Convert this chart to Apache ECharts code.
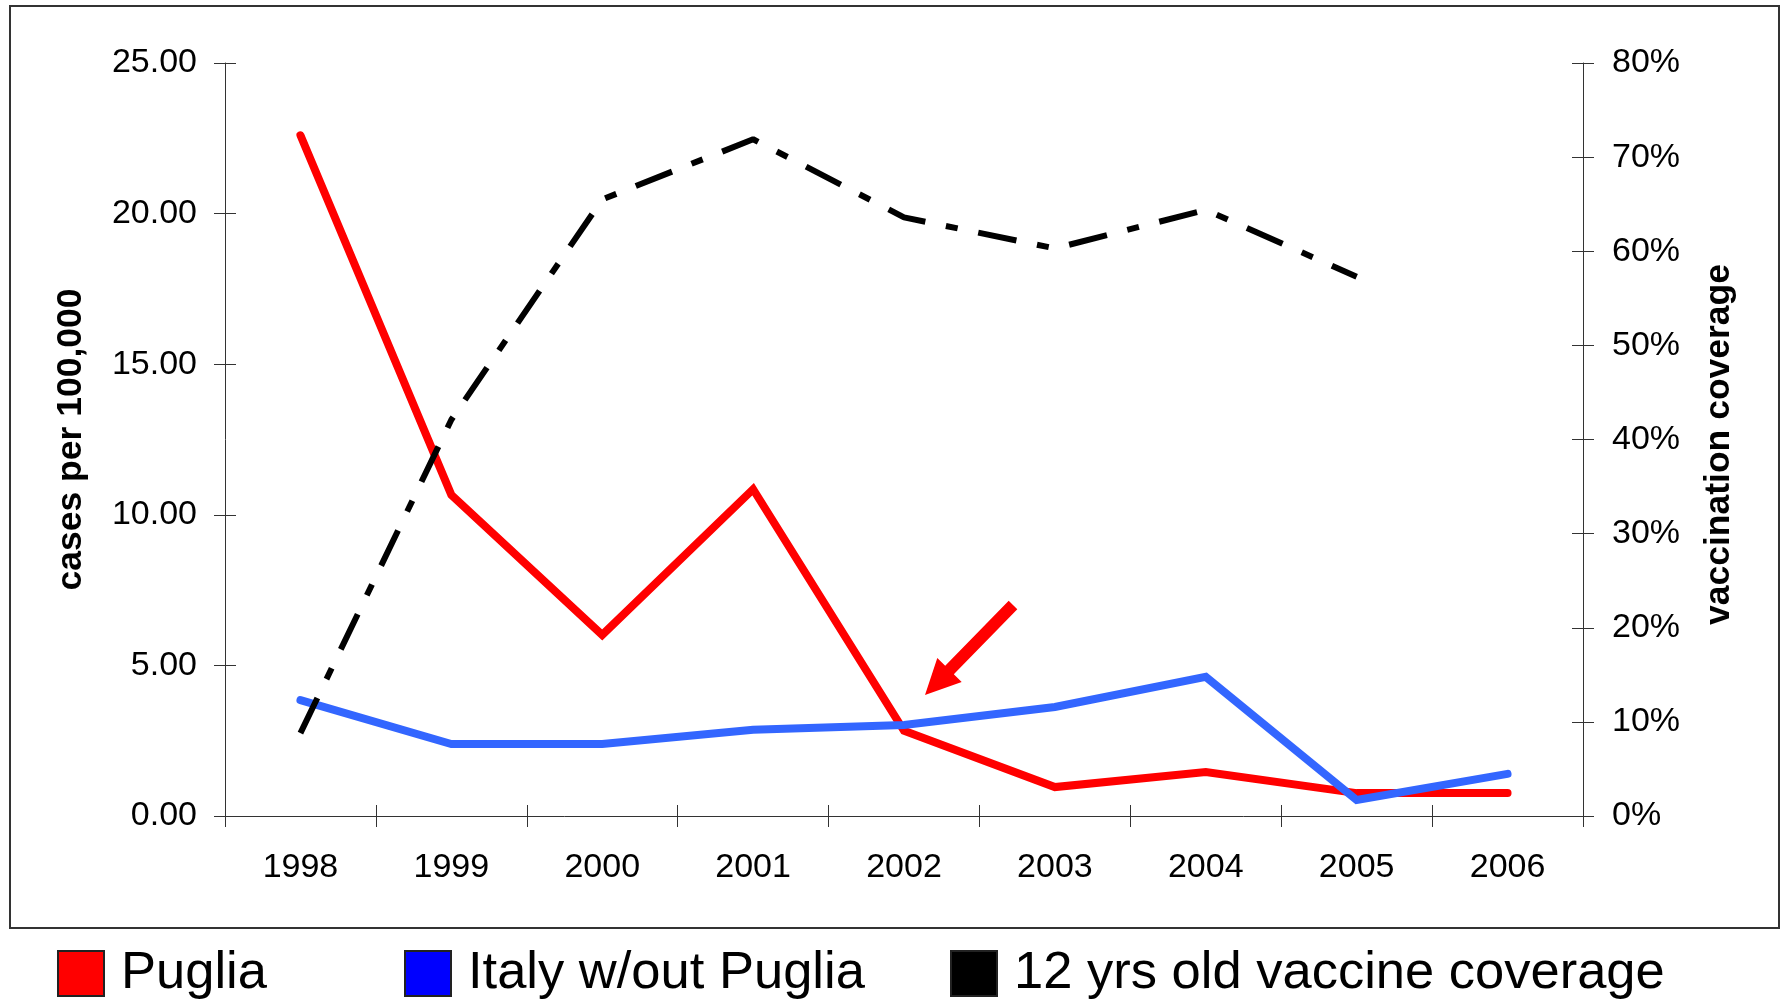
<!DOCTYPE html>
<html>
<head>
<meta charset="utf-8">
<script src="https://cdn.jsdelivr.net/npm/echarts@6/dist/echarts.min.js"></script>
<style>
html,body{margin:0;padding:0;background:#fff;}
#chart{width:1785px;height:1002px;}
</style>
</head>
<body>
<div id="chart"></div>
<script>
const years = ['1998','1999','2000','2001','2002','2003','2004','2005','2006'];
const puglia = [22.6, 10.66, 6.01, 10.85, 2.83, 0.96, 1.46, 0.76, 0.76];
const italyWithoutPuglia = [3.85, 2.39, 2.39, 2.86, 3.02, 3.62, 4.62, 0.53, 1.40];
const coverage12 = [8.8, 42.1, 65.5, 71.9, 63.6, 60.3, 64.4, 57.3, null];
const leftTicks = {min: 0, max: 25, interval: 5};
const rightTicks = {min: 0, max: 80, interval: 10};
const seriesNames = ['Puglia', 'Italy w/out Puglia', '12 yrs old vaccine coverage'];
const lineColors = ['#FF0000', '#3366FF', '#000000'];
const legendColors = ['#FF0000', '#0000FF', '#000000'];

const FONT = '"Liberation Sans", Arial, Helvetica, sans-serif';
const chart = echarts.init(document.getElementById('chart'), null, {renderer: 'canvas'});

const tickStyle = {color: '#333', width: 1};
const labelStyle = {color: '#000', fontSize: 34, fontFamily: FONT};

function legendFor(i, left) {
  return {
    left: left, top: 947, orient: 'horizontal', padding: 0,
    itemWidth: 46, itemHeight: 45,
    selectedMode: false,
    textStyle: {fontSize: 52.5, fontFamily: FONT, color: '#000', padding: [3, 0, 0, 12]},
    data: [{name: seriesNames[i], icon: 'rect',
      itemStyle: {color: legendColors[i], borderColor: '#222', borderWidth: 2}}]
  };
}

const option = {
  animation: false,
  backgroundColor: '#fff',
  grid: {left: 225, right: 202, top: 63, bottom: 186, containLabel: false},
  legend: [legendFor(0, 57), legendFor(1, 404), legendFor(2, 950)],
  xAxis: [
    {type: 'category', data: years, boundaryGap: true, position: 'bottom',
     axisLine: {show: true, lineStyle: tickStyle},
     axisTick: {show: true, interval: 0, length: 11, lineStyle: tickStyle},
     axisLabel: Object.assign({margin: 35, interval: 0}, labelStyle),
     splitLine: {show: false}},
    {type: 'category', data: years, boundaryGap: true, position: 'bottom',
     axisLine: {show: false},
     axisTick: {show: true, inside: true, interval: 0, length: 11, lineStyle: tickStyle},
     axisLabel: {show: false}, splitLine: {show: false}}
  ],
  yAxis: [
    {type: 'value', position: 'left', min: leftTicks.min, max: leftTicks.max, interval: leftTicks.interval,
     name: 'cases per 100,000', nameLocation: 'middle', nameGap: 136, nameRotate: 90,
     nameTextStyle: {fontSize: 35.5, fontWeight: 'bold', fontFamily: FONT, color: '#000'},
     axisLine: {show: true, lineStyle: tickStyle},
     axisTick: {show: true, length: 11, lineStyle: tickStyle},
     axisLabel: Object.assign({margin: 28, formatter: v => v.toFixed(2)}, labelStyle),
     splitLine: {show: false}},
    {type: 'value', position: 'right', min: rightTicks.min, max: rightTicks.max, interval: rightTicks.interval,
     name: 'vaccination coverage', nameLocation: 'middle', nameGap: 118, nameRotate: 90,
     nameTextStyle: {fontSize: 35.5, fontWeight: 'bold', fontFamily: FONT, color: '#000', padding: [0, 10, 0, 0]},
     axisLine: {show: true, lineStyle: tickStyle},
     axisTick: {show: true, length: 11, lineStyle: tickStyle},
     axisLabel: Object.assign({margin: 29, formatter: '{value}%'}, labelStyle),
     splitLine: {show: false}},
    {type: 'value', position: 'left', min: leftTicks.min, max: leftTicks.max, interval: leftTicks.interval,
     axisLine: {show: false}, axisTick: {show: true, inside: true, length: 11, lineStyle: tickStyle},
     axisLabel: {show: false}, splitLine: {show: false}},
    {type: 'value', position: 'right', min: rightTicks.min, max: rightTicks.max, interval: rightTicks.interval,
     axisLine: {show: false}, axisTick: {show: true, inside: true, length: 11, lineStyle: tickStyle},
     axisLabel: {show: false}, splitLine: {show: false}}
  ],
  series: [
    {name: seriesNames[0], type: 'line', data: puglia, yAxisIndex: 0, symbol: 'none',
     lineStyle: {color: lineColors[0], width: 8, cap: 'round', join: 'miter'},
     itemStyle: {color: lineColors[0]}, z: 2},
    {name: seriesNames[1], type: 'line', data: italyWithoutPuglia, yAxisIndex: 0, symbol: 'none',
     lineStyle: {color: lineColors[1], width: 8, cap: 'round', join: 'miter'},
     itemStyle: {color: lineColors[1]}, z: 3},
    {name: seriesNames[2], type: 'line', data: coverage12, yAxisIndex: 1, symbol: 'none',
     connectNulls: false,
     lineStyle: {color: lineColors[2], width: 6, type: [39, 21, 12, 21], cap: 'butt'},
     itemStyle: {color: lineColors[2]}, z: 4}
  ],
  graphic: [
    {type: 'rect', shape: {x: 10, y: 6, width: 1769, height: 922},
     style: {fill: null, stroke: '#333', lineWidth: 2}, silent: true, z: 0},
    {type: 'polygon', shape: {points: [[1017.3,609.2],[953.8,674.2],[961.7,681.9],[925,695],[937.3,658.1],[945.2,665.8],[1008.7,600.8]]},
     style: {fill: '#FF0000'}, silent: true, z: 10}
  ]
};
chart.setOption(option);
</script>
</body>
</html>
